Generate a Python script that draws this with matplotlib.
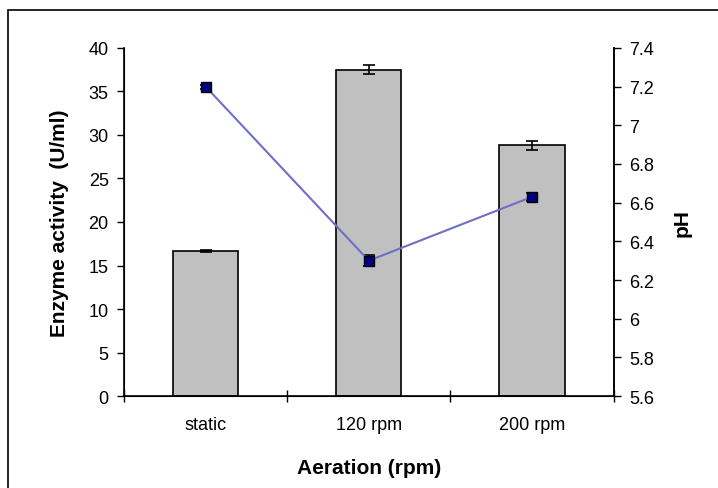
import matplotlib
matplotlib.use("Agg")
import matplotlib.pyplot as plt
from matplotlib.patches import Rectangle
import numpy as np

plt.rcParams['font.family'] = ['Liberation Sans', 'DejaVu Sans']

# Data
categories = ['static', '120 rpm', '200 rpm']
enzyme = [16.7, 37.5, 28.8]
enzyme_err = [0.1, 0.5, 0.5]
ph = [7.2, 6.3, 6.63]
ph_err = [0.01, 0.03, 0.02]

fig = plt.figure(figsize=(7.18, 4.89), dpi=100)
ax = fig.add_axes([0.1727, 0.188, 0.682, 0.712])

# outer border (only left and top visible)
fig.patches.append(Rectangle((8 / 718, -0.1), 1.2, 1 - 11 / 489 + 0.1,
                             transform=fig.transFigure, fill=False,
                             edgecolor='black', linewidth=1.2))

x = np.arange(len(categories))
ax.bar(x, enzyme, width=0.4, color='#C0C0C0', edgecolor='black', linewidth=1.2,
       yerr=enzyme_err, error_kw=dict(ecolor='black', capsize=4, elinewidth=1.2, capthick=1.2))

ax.set_xlim(-0.5, 2.5)
ax.set_ylim(0, 40)
ax.set_yticks(range(0, 41, 5))
ax.set_xticks(x)
ax.set_xticklabels(categories)
ax.set_xticks([-0.5, 0.5, 1.5, 2.5], minor=True)
ax.tick_params(axis='x', which='major', length=0, pad=14, labelsize=13)
ax.tick_params(axis='x', which='minor', length=8, direction='inout', width=1)
ax.tick_params(axis='y', length=5, width=1, direction='out', labelsize=13, pad=6)
ax.spines['top'].set_visible(False)
for s in ['left', 'bottom', 'right']:
    ax.spines[s].set_linewidth(1.2)

ax.set_xlabel('Aeration (rpm)', fontsize=15, fontweight='bold', labelpad=18)
ax.set_ylabel('Enzyme activity  (U/ml)', fontsize=15, fontweight='bold', labelpad=14)

ax2 = ax.twinx()
ax2.errorbar(x, ph, yerr=ph_err, color='#6F6FC8', linewidth=1.5, marker='s',
             markersize=6.5, markerfacecolor='#000080', markeredgecolor='black',
             ecolor='black', capsize=4, elinewidth=1.2, capthick=1.2)
ax2.set_ylim(5.6, 7.4)
ax2.set_yticks(np.round(np.arange(5.6, 7.41, 0.2), 1))
ax2.set_yticklabels(['5.6', '5.8', '6', '6.2', '6.4', '6.6', '6.8', '7', '7.2', '7.4'])
ax2.tick_params(axis='y', length=5, width=1, direction='out', labelsize=13, pad=6)
ax2.spines['top'].set_visible(False)
ax2.spines['right'].set_linewidth(1.2)
ax2.set_ylabel('pH', fontsize=15, fontweight='bold', labelpad=13)

fig.savefig('out.png', dpi=100)
